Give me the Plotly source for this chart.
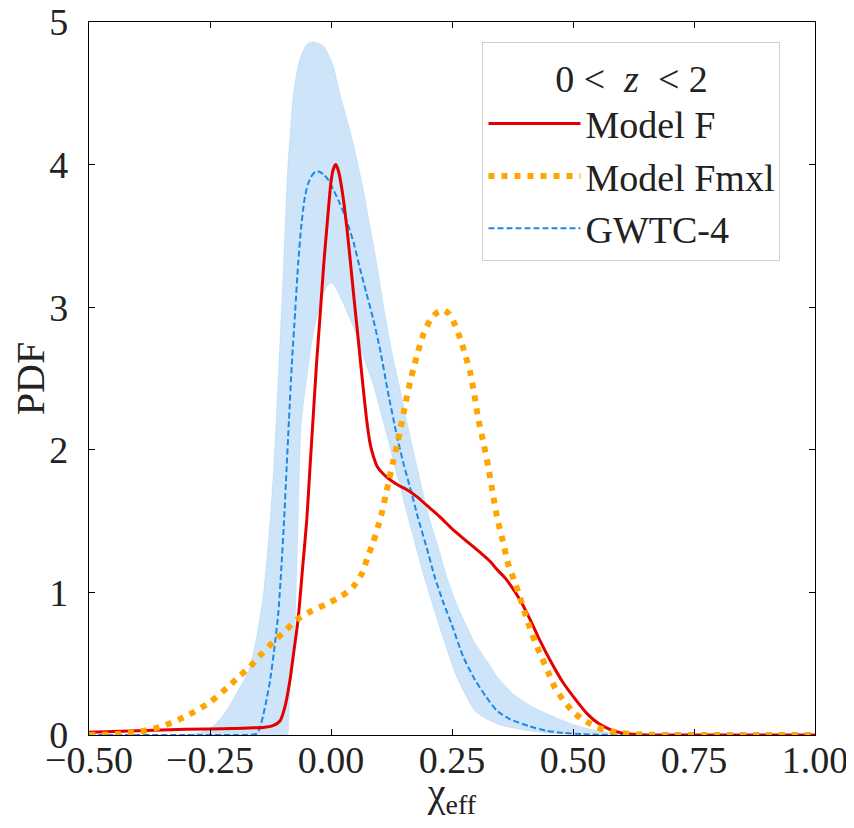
import plotly.graph_objects as go

# ---------------- data ----------------
# Model F (red solid)
x_f = [-0.5, -0.4, -0.3, -0.2, -0.16, -0.14, -0.12, -0.105, -0.095, -0.085, -0.077, -0.068,
       -0.058, -0.05, -0.043, -0.037, -0.03, -0.023, -0.015, -0.008, 0.0, 0.005, 0.01, 0.015,
       0.02, 0.027, 0.033, 0.04, 0.047, 0.054, 0.06, 0.066, 0.074, 0.081, 0.088, 0.096, 0.108,
       0.122, 0.14, 0.157, 0.178, 0.198, 0.225, 0.252, 0.28, 0.308, 0.328, 0.343, 0.36, 0.375,
       0.39, 0.41, 0.432, 0.455, 0.479, 0.505, 0.529, 0.553, 0.576, 0.6, 0.625, 0.65, 0.7, 0.8,
       0.9, 1.0]
y_f = [0.02, 0.03, 0.04, 0.045, 0.05, 0.052, 0.065, 0.1, 0.2, 0.38, 0.58, 0.81,
       1.2, 1.51, 1.9, 2.22, 2.6, 2.92, 3.3, 3.58, 3.88, 3.97, 4.0, 3.96,
       3.88, 3.72, 3.55, 3.32, 3.08, 2.85, 2.65, 2.45, 2.2, 2.04, 1.95, 1.88, 1.83,
       1.79, 1.75, 1.72, 1.67, 1.61, 1.53, 1.44, 1.36, 1.28, 1.22, 1.16, 1.1, 1.03,
       0.95, 0.82, 0.66, 0.51, 0.37, 0.25, 0.15, 0.08, 0.04, 0.015, 0.005, 0.0, 0.0, 0.0,
       0.0, 0.0]

# Model Fmxl (orange dotted)
x_m = [-0.5, -0.45, -0.4, -0.35, -0.3, -0.25, -0.215, -0.19, -0.167, -0.143, -0.12, -0.095,
       -0.07, -0.04, -0.008, 0.02, 0.046, 0.065, 0.076, 0.087, 0.097, 0.106, 0.113, 0.12,
       0.128, 0.136, 0.143, 0.153, 0.163, 0.172, 0.18, 0.192, 0.205, 0.218, 0.232, 0.245,
       0.257, 0.267, 0.277, 0.287, 0.296, 0.304, 0.315, 0.325, 0.334, 0.343, 0.355, 0.366,
       0.378, 0.39, 0.4, 0.411, 0.423, 0.436, 0.45, 0.463, 0.483, 0.504, 0.52, 0.535, 0.55,
       0.562, 0.58, 0.597, 0.62, 0.65, 0.7, 0.8, 0.9, 1.0]
y_m = [0.0, 0.005, 0.02, 0.06, 0.13, 0.23, 0.33, 0.41, 0.48, 0.57, 0.65, 0.73,
       0.81, 0.87, 0.92, 0.97, 1.04, 1.14, 1.25, 1.35, 1.46, 1.57, 1.68, 1.79,
       1.91, 2.03, 2.14, 2.31, 2.47, 2.59, 2.69, 2.82, 2.91, 2.96, 2.98, 2.95,
       2.87, 2.78, 2.67, 2.55, 2.39, 2.22, 2.05, 1.88, 1.7, 1.53, 1.36, 1.2,
       1.09, 0.97, 0.86, 0.75, 0.64, 0.54, 0.43, 0.33, 0.23, 0.15, 0.11, 0.08, 0.055,
       0.04, 0.025, 0.015, 0.007, 0.002, 0.0, 0.0, 0.0, 0.0]

# GWTC-4 median (blue dashed)
x_g = [-0.5, -0.3, -0.2, -0.17, -0.153, -0.146, -0.14, -0.133, -0.126, -0.118, -0.109, -0.103,
       -0.097, -0.092, -0.087, -0.081, -0.074, -0.068, -0.062, -0.055, -0.048, -0.04, -0.032,
       -0.024, -0.015, -0.005, 0.004, 0.018, 0.033, 0.047, 0.06, 0.073, 0.087, 0.101, 0.118,
       0.136, 0.15, 0.163, 0.18, 0.198, 0.215, 0.232, 0.25, 0.273, 0.297, 0.32, 0.343, 0.37,
       0.411, 0.445, 0.479, 0.52, 0.56, 0.6, 0.7, 0.8, 0.9, 1.0]
y_g = [0.0, 0.0, 0.0, 0.0, 0.01, 0.06, 0.14, 0.25, 0.38, 0.58, 0.85, 1.15,
       1.5, 1.85, 2.2, 2.6, 2.97, 3.3, 3.55, 3.75, 3.86, 3.92, 3.95,
       3.95, 3.93, 3.89, 3.83, 3.73, 3.6, 3.45, 3.27, 3.1, 2.92, 2.71, 2.4,
       2.1, 1.9, 1.74, 1.52, 1.31, 1.1, 0.93, 0.77, 0.55, 0.39, 0.27, 0.17, 0.11,
       0.06, 0.03, 0.015, 0.006, 0.002, 0.0, 0.0, 0.0, 0.0, 0.0]

# GWTC-4 credible band, upper edge
x_hi = [-0.5, -0.32, -0.29, -0.27, -0.244, -0.22, -0.194, -0.17, -0.153, -0.14, -0.126, -0.118,
        -0.112, -0.105, -0.101, -0.095, -0.089, -0.083, -0.078, -0.071, -0.064, -0.056, -0.048,
        -0.037, -0.025, -0.015, -0.008, 0.004, 0.019, 0.032, 0.045, 0.054, 0.067, 0.08, 0.095,
        0.11, 0.128, 0.143, 0.16, 0.18, 0.2, 0.225, 0.24, 0.267, 0.295, 0.322, 0.343, 0.376,
        0.415, 0.459, 0.5, 0.535, 0.57, 0.6, 0.65, 0.7, 1.0]
y_hi = [0.0, 0.0, 0.005, 0.02, 0.06, 0.15, 0.3, 0.45, 0.7, 0.98, 1.5, 1.9,
        2.3, 2.8, 3.08, 3.55, 4.0, 4.28, 4.49, 4.64, 4.74, 4.81, 4.85,
        4.86, 4.85, 4.83, 4.79, 4.7, 4.49, 4.33, 4.16, 4.03, 3.82, 3.58, 3.3,
        2.98, 2.65, 2.42, 2.15, 1.85, 1.56, 1.28, 1.1, 0.86, 0.66, 0.52, 0.41, 0.29,
        0.2, 0.13, 0.075, 0.04, 0.02, 0.01, 0.003, 0.0, 0.0]

# GWTC-4 credible band, lower edge
x_lo = [-0.5, -0.09, -0.088, -0.085, -0.081, -0.074, -0.068, -0.062, -0.056, -0.048, -0.04,
        -0.029, -0.018, -0.008, 0.002, 0.012, 0.025, 0.039, 0.055, 0.07, 0.085, 0.1, 0.118,
        0.138, 0.165, 0.194, 0.23, 0.262, 0.3, 0.35, 0.43, 0.5, 1.0]
y_lo = [0.0, 0.0, 0.05, 0.3, 0.5, 0.81, 1.5, 2.15, 2.35, 2.55, 2.75,
        2.93, 3.07, 3.15, 3.17, 3.12, 3.03, 2.92, 2.78, 2.62, 2.48, 2.3, 2.07,
        1.8, 1.45, 1.09, 0.7, 0.39, 0.16, 0.07, 0.02, 0.005, 0.0]

x_ticks = [-0.5, -0.25, 0.0, 0.25, 0.5, 0.75, 1.0]
y_ticks = [0, 1, 2, 3, 4, 5]

FONT = "Liberation Serif"
TXT = "#222"

fig = go.Figure()

# credible band as closed polygon
fig.add_trace(go.Scatter(
    x=x_hi + x_lo[::-1], y=y_hi + y_lo[::-1],
    fill="toself", fillcolor="rgba(30,136,229,0.22)",
    line=dict(color="rgba(30,136,229,0.12)", width=1, shape="spline", smoothing=0.6),
    mode="lines", showlegend=False, hoverinfo="skip"))

fig.add_trace(go.Scatter(
    x=x_g, y=y_g, mode="lines", name="GWTC-4", legendrank=3,
    line=dict(color="#1E88E5", width=2, dash="6px,3px", shape="spline", smoothing=0.6)))

fig.add_trace(go.Scatter(
    x=x_f, y=y_f, mode="lines", name="Model F", legendrank=1,
    line=dict(color="#E50000", width=3, shape="spline", smoothing=0.6)))

fig.add_trace(go.Scatter(
    x=x_m, y=y_m, mode="lines", name="Model Fmxl", legendrank=2,
    line=dict(color="#FFA500", width=6, dash="6px,7px", shape="spline", smoothing=0.6)))

axis_common = dict(
    showline=True, linecolor="black", linewidth=1.2, mirror="ticks",
    ticks="inside", ticklen=6, tickwidth=1.2, tickcolor="black",
    showgrid=False, zeroline=False, ticklabeloverflow="allow",
    tickfont=dict(family=FONT, size=38, color=TXT),
)

fig.update_xaxes(range=[-0.5, 1.0], tickvals=x_ticks, tickformat=".2f",
                 ticklabelstandoff=-9,
                 title=dict(text="χ<sub>eff</sub>", font=dict(family=FONT, size=40, color=TXT),
                            standoff=16),
                 **axis_common)
fig.update_yaxes(range=[0, 5], tickvals=y_ticks, ticklabelstandoff=12,
                 title=dict(text="PDF", font=dict(family=FONT, size=40, color=TXT),
                            standoff=2),
                 **axis_common)

fig.update_layout(
    width=846, height=812,
    margin=dict(l=81, r=39, t=14, b=85, autoexpand=False),
    paper_bgcolor="white", plot_bgcolor="white",
    font=dict(family=FONT, color=TXT),
    legend=dict(
        x=0.542, y=0.972, xanchor="left", yanchor="top",
        bgcolor="white", bordercolor="#d0d0d0", borderwidth=1,
        font=dict(family=FONT, size=38, color=TXT),
        title=dict(text="0 <  <i>z</i>  < 2", side="top center",
                   font=dict(family=FONT, size=38, color=TXT)),
        itemwidth=92, tracegroupgap=0,
    ),
)

fig.write_html("out.html")
